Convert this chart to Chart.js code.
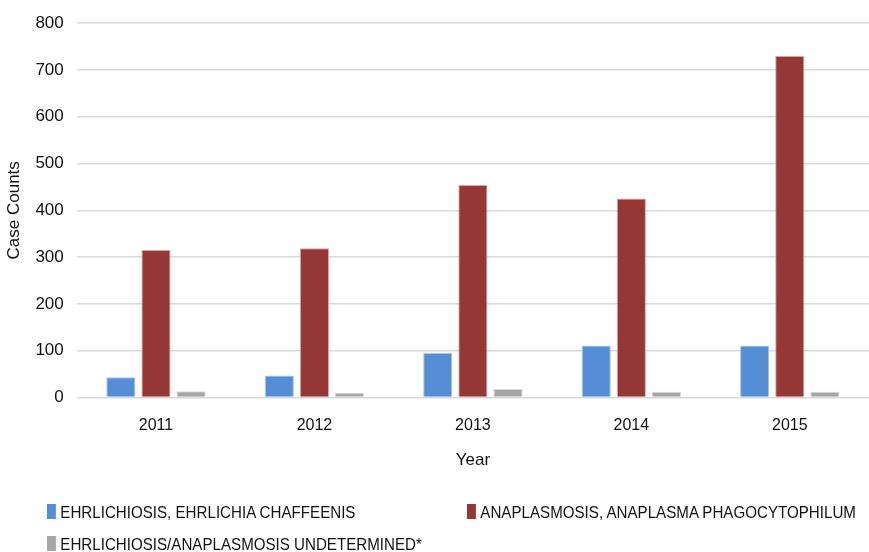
<!DOCTYPE html>
<html>
<head>
<meta charset="utf-8">
<script src="https://cdn.jsdelivr.net/npm/chart.js@4/dist/chart.umd.min.js"></script>
<style>
    html, body { margin: 0; padding: 0; background: #fff; }
    .wrap { position: relative; width: 869px; height: 552px; }
    #legend { position: absolute; left: 0; top: 0; width: 869px; height: 552px; pointer-events: none;
              font-family: "Liberation Sans", Arial, sans-serif; font-size: 17px; color: #111; }
    .item { position: absolute; white-space: nowrap; line-height: 18px; transform: scaleX(0.89); transform-origin: left center; }
    .box { display: inline-block; width: 10px; height: 15px; margin-right: 5px; vertical-align: -1px; }
</style>
</head>
<body>
<div class="wrap">
    <canvas id="chart" width="869" height="552"></canvas>
    <div id="legend"></div>
</div>

<script>
    const years = ['2011', '2012', '2013', '2014', '2015'];
    const ehrlichiosis = [43, 47, 95, 111, 111];
    const anaplasmosis = [315, 319, 454, 425, 730];
    const undetermined = [13, 10, 18, 12, 12];
    const seriesNames = [
        'EHRLICHIOSIS, EHRLICHIA CHAFFEENIS',
        'ANAPLASMOSIS, ANAPLASMA PHAGOCYTOPHILUM',
        'EHRLICHIOSIS/ANAPLASMOSIS UNDETERMINED*'
    ];
    const fills = ['#558ed5', '#953735', '#a6a6a6'];
    const edges = ['#a9c6ec', '#d5a9a8', '#d6d6d6'];

    const data = {
        labels: years,
        datasets: [ehrlichiosis, anaplasmosis, undetermined].map(function (vals, i) {
            return {
                label: seriesNames[i],
                data: vals,
                backgroundColor: fills[i],
                borderColor: edges[i],
                borderWidth: 1,
                categoryPercentage: 0.665,
                barPercentage: 0.83
            };
        })
    };

    const config = {
        type: 'bar',
        data: data,
        options: {
            responsive: false,
            animation: false,
            layout: { padding: { left: 0, right: 0, top: 10, bottom: 77 } },
            plugins: {
                legend: { display: false },
                tooltip: { enabled: false }
            },
            scales: {
                x: {
                    grid: { display: false },
                    border: { display: false },
                    ticks: { color: '#111', font: { family: 'Liberation Sans', size: 16 }, padding: 11 },
                    title: { display: true, text: 'Year', color: '#111', font: { family: 'Liberation Sans', size: 17 }, padding: { top: 4 } }
                },
                y: {
                    min: 0,
                    max: 800,
                    ticks: { stepSize: 100, color: '#111', font: { family: 'Liberation Sans', size: 17 }, padding: 13 },
                    grid: { color: '#d9d9d9', lineWidth: 1.5, drawTicks: false },
                    border: { display: false },
                    title: { display: true, text: 'Case Counts', color: '#111', font: { family: 'Liberation Sans', size: 17 }, padding: { top: 4, bottom: -2 } }
                }
            }
        }
    };

    const chart = new Chart(document.getElementById('chart'), config);

    // legend laid out like the spreadsheet one: two columns, left aligned
    const legendPos = [[47, 504], [467, 504], [47, 536]];
    const legend = document.getElementById('legend');
    chart.data.datasets.forEach(function (ds, i) {
        const el = document.createElement('div');
        el.className = 'item';
        el.style.left = legendPos[i][0] + 'px';
        el.style.top = legendPos[i][1] + 'px';
        el.innerHTML = '<span class="box" style="background:' + ds.backgroundColor + '"></span>' + ds.label;
        legend.appendChild(el);
    });
</script>
</body>
</html>
